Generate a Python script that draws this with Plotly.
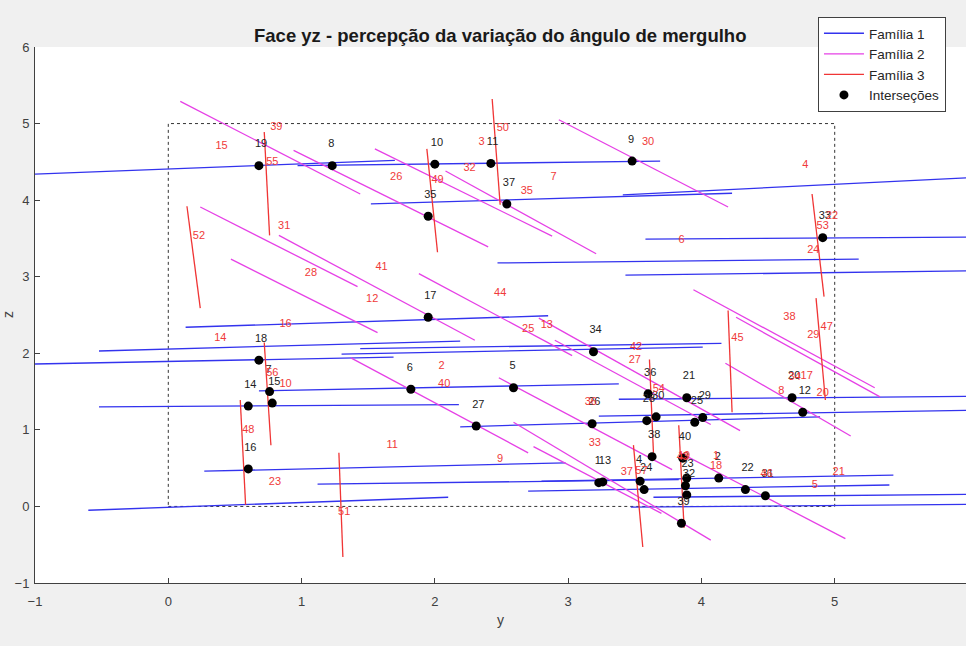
import plotly.graph_objects as go

# ---------------- data (y, z coordinates) ----------------
# Família 1 segments: (y0, z0, y1, z1)
fam1 = [
    (-1.00, 4.34, 1.70, 4.52), (0.97, 4.45, 3.69, 4.51), (1.52, 3.95, 4.23, 4.09),
    (3.41, 4.07, 6.20, 4.31), (3.58, 3.49, 6.20, 3.52), (2.47, 3.18, 5.18, 3.23),
    (3.43, 3.02, 6.20, 3.08), (0.13, 2.34, 2.85, 2.49), (-0.52, 2.03, 2.19, 2.16),
    (-1.00, 1.86, 1.69, 1.95), (1.44, 2.06, 4.15, 2.13), (1.30, 1.99, 4.01, 2.08),
    (0.68, 1.51, 3.38, 1.60), (-0.52, 1.30, 2.18, 1.33), (3.38, 1.40, 6.20, 1.44),
    (3.23, 1.18, 6.20, 1.26), (2.19, 1.04, 4.89, 1.17), (0.27, 0.46, 2.98, 0.57),
    (1.12, 0.29, 3.83, 0.35), (2.80, 0.33, 5.44, 0.41), (2.70, 0.20, 5.41, 0.28),
    (3.64, 0.12, 6.20, 0.16), (-0.60, -0.05, 2.10, 0.12), (3.47, -0.01, 6.20, 0.03),
]
# Família 2 segments
fam2 = [
    (0.09, 5.29, 1.44, 4.08), (0.94, 4.65, 2.40, 3.39), (1.55, 4.67, 2.88, 3.53),
    (2.08, 4.38, 3.21, 3.30), (2.93, 5.05, 4.20, 3.91), (0.24, 3.91, 1.42, 2.87),
    (0.83, 3.54, 2.30, 2.17), (0.47, 3.23, 1.57, 2.27), (1.88, 3.04, 3.03, 1.97),
    (2.78, 2.46, 4.29, 0.99), (2.90, 2.17, 4.07, 1.07), (3.94, 2.83, 5.30, 1.55),
    (4.26, 2.47, 5.34, 1.43), (4.18, 1.87, 5.12, 0.92), (1.37, 1.94, 2.70, 0.70),
    (2.48, 1.68, 3.78, 0.48), (2.59, 1.10, 4.07, -0.44), (2.74, 0.78, 3.70, -0.09),
    (3.84, 0.70, 5.08, -0.42),
]
# Família 3 segments
fam3 = [
    (0.72, 4.89, 0.76, 3.54), (1.94, 4.67, 2.02, 3.32), (2.43, 5.32, 2.49, 3.94),
    (0.14, 3.92, 0.24, 2.59), (4.83, 4.08, 4.92, 2.74), (4.86, 2.72, 4.93, 1.39),
    (4.20, 2.56, 4.23, 1.23), (0.72, 2.14, 0.77, 0.80), (0.54, 1.39, 0.58, 0.02),
    (1.28, 0.70, 1.31, -0.66), (3.49, 0.80, 3.56, -0.53), (3.61, 1.92, 3.64, 0.70),
    (3.83, 1.06, 3.87, -0.28),
]
# intersections: y, z, label
int_y = [0.68, 1.23, 2.00, 2.42, 3.48, 1.95, 2.54, 4.91, 1.95, 0.68,
         3.19, 0.76, 0.78, 0.60, 0.60, 1.82, 2.59, 2.31, 3.18, 3.60,
         3.89, 3.66, 3.59, 3.95, 4.01, 4.68, 4.76, 3.63, 3.86, 3.23,
         3.26, 3.54, 3.57, 3.89, 3.88, 3.89, 3.85, 4.13, 4.33, 4.48]
int_z = [4.45, 4.45, 4.47, 4.48, 4.51, 3.79, 3.95, 3.51, 2.47, 1.91,
         2.02, 1.50, 1.35, 1.31, 0.49, 1.53, 1.55, 1.05, 1.08, 1.47,
         1.42, 1.17, 1.12, 1.10, 1.16, 1.42, 1.23, 0.65, 0.63, 0.31,
         0.32, 0.33, 0.22, 0.37, 0.27, 0.15, -0.22, 0.37, 0.22, 0.14]
int_lbl = ["19", "8", "10", "11", "9", "35", "37", "33", "17", "18",
           "34", "7", "15", "14", "16", "6", "5", "27", "26", "36",
           "21", "30", "28", "25", "29", "20", "12", "38", "40", "1",
           "13", "4", "24", "3", "23", "32", "39", "2", "22", "31"]
# line labels (red)
lab_txt = ["15", "39", "55", "3", "50", "30", "26", "49", "32", "7", "35", "4",
           "52", "31", "28", "41", "12", "16", "14", "44", "25", "13", "42", "27",
           "2", "40", "56", "10", "54", "6", "22", "53", "24", "38", "47", "29",
           "45", "34", "17", "8", "20", "48", "23", "11", "9", "51", "33", "36",
           "37", "57", "19", "1", "18", "46", "21", "5", "43"]
lab_y = [0.40, 0.81, 0.78, 2.35, 2.51, 3.60, 1.71, 2.02, 2.26, 2.89, 2.69, 4.78,
         0.23, 0.87, 1.07, 1.60, 1.53, 0.88, 0.39, 2.49, 2.70, 2.84, 3.51, 3.50,
         2.05, 2.07, 0.78, 0.88, 3.68, 3.85, 4.98, 4.91, 4.84, 4.66, 4.94, 4.84,
         4.27, 4.70, 4.79, 4.60, 4.91, 0.60, 0.80, 1.68, 2.49, 1.32, 3.20, 3.17,
         3.44, 3.55, 3.87, 4.11, 4.11, 4.49, 5.03, 4.85, 3.86]
lab_z = [4.71, 4.95, 4.50, 4.76, 4.94, 4.76, 4.30, 4.26, 4.42, 4.30, 4.12, 4.45,
         3.53, 3.66, 3.04, 3.13, 2.71, 2.38, 2.19, 2.79, 2.32, 2.37, 2.08, 1.91,
         1.83, 1.60, 1.74, 1.60, 1.53, 3.48, 3.79, 3.66, 3.34, 2.47, 2.34, 2.23,
         2.19, 1.69, 1.70, 1.51, 1.48, 1.00, 0.32, 0.80, 0.61, -0.08, 0.83, 1.36,
         0.45, 0.46, 0.65, 0.66, 0.52, 0.42, 0.44, 0.28, 0.64]
region = (0, 5, 0, 5)  # dotted reference square

# ---------------- figure ----------------
FONT = "Liberation Sans, Arial"


def seg_xy(segs):
    xs, ys = [], []
    for a, b, c, d in segs:
        xs += [a, c, None]
        ys += [b, d, None]
    return xs, ys


fig = go.Figure()
for segs, name, col in [(fam1, "Família 1", "#3333ee"),
                        (fam2, "Família 2", "#e640e6"),
                        (fam3, "Família 3", "#f03535")]:
    xs, ys = seg_xy(segs)
    fig.add_trace(go.Scatter(x=xs, y=ys, mode="lines", name=name,
                             line=dict(color=col, width=1.3)))

fig.add_trace(go.Scatter(x=int_y, y=int_z, mode="markers", name="Interseções",
                         marker=dict(color="black", size=9)))

# intersection labels (above-right of the point)
fig.add_trace(go.Scatter(x=[v - 0.03 for v in int_y], y=[v + 0.275 for v in int_z],
                         mode="text", text=int_lbl, textposition="middle right",
                         textfont=dict(family=FONT, size=11, color="#222222"),
                         showlegend=False, hoverinfo="skip"))
# line labels
fig.add_trace(go.Scatter(x=lab_y, y=lab_z, mode="text", text=lab_txt,
                         textposition="middle center",
                         textfont=dict(family=FONT, size=11, color="#f03a3a"),
                         showlegend=False, hoverinfo="skip"))

x0, x1, y0, y1 = region
fig.add_shape(type="rect", x0=x0, x1=x1, y0=y0, y1=y1, xref="x", yref="y",
              line=dict(color="#333333", width=1, dash="dot"), layer="below")

axis_common = dict(showgrid=False, zeroline=False, showline=True, linecolor="#404040",
                   linewidth=1, ticks="inside", ticklen=5, tickcolor="#404040",
                   tickfont=dict(family=FONT, size=13, color="#404040"),
                   mirror=False)
fig.update_xaxes(range=[-1, 5.985], tickvals=[-1, 0, 1, 2, 3, 4, 5, 6],
                 ticklabelstandoff=6, **axis_common)
fig.update_yaxes(range=[-1, 6], tickvals=[-1, 0, 1, 2, 3, 4, 5, 6],
                 ticklabelstandoff=2, **axis_common)

fig.add_annotation(text="<b>Face yz - percepção da variação do ângulo de mergulho</b>",
                   xref="paper", yref="paper", x=0.4995, y=1.022,
                   xanchor="center", yanchor="middle", showarrow=False,
                   font=dict(family=FONT, size=18.5, color="#1a1a1a"))
fig.add_annotation(text="y", xref="paper", yref="paper", x=0.4995, y=-0.069,
                   xanchor="center", yanchor="middle", showarrow=False,
                   font=dict(family=FONT, size=14, color="#404040"))
fig.add_annotation(text="z", xref="paper", yref="paper", x=-0.029, y=0.5, textangle=-90,
                   xanchor="center", yanchor="middle", showarrow=False,
                   font=dict(family=FONT, size=14, color="#404040"))

fig.update_layout(
    width=966, height=646,
    margin=dict(l=35, r=0, t=47, b=63),
    paper_bgcolor="#f0f0f0", plot_bgcolor="white",
    showlegend=True,
    legend=dict(x=0.841, y=1.056, xanchor="left", yanchor="top",
                bgcolor="white", bordercolor="#404040", borderwidth=1,
                font=dict(family=FONT, size=13.5, color="#262626"),
                tracegroupgap=0, itemwidth=40),
)

fig.write_html("out.html")
